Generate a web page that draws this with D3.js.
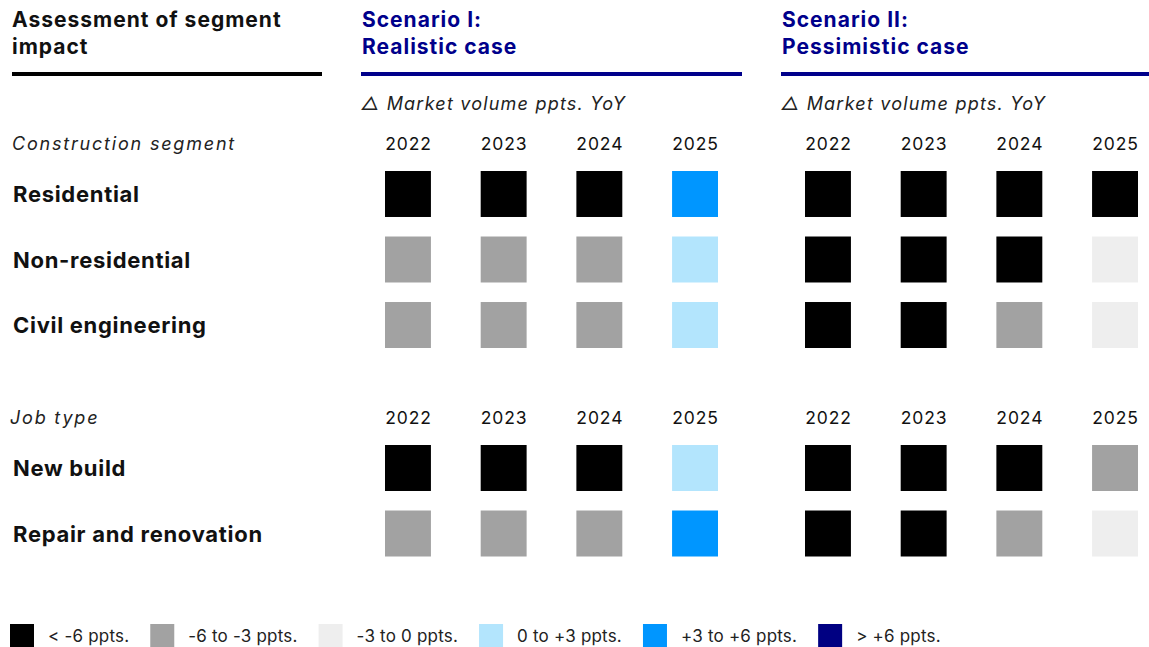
<!DOCTYPE html>
<html>
<head>
<meta charset="utf-8">
<script src="https://cdn.jsdelivr.net/npm/d3@7"></script>
<style>
  body { margin: 0; background: #fff; }
  svg { display: block; font-family: Inter, "Noto Sans", sans-serif; }
</style>
</head>
<body>
<svg id="chart"></svg>
<script>
const W = 1149, H = 647;

// classes of YoY change, index 0..5
const classLabels = ["< -6 ppts.", "-6 to -3 ppts.", "-3 to 0 ppts.", "0 to +3 ppts.", "+3 to +6 ppts.", "> +6 ppts."];
const classColors = ["#000000", "#a2a2a2", "#eeeeee", "#b3e5fd", "#0096ff", "#000082"];

const years = ["2022", "2023", "2024", "2025"];
const scenarios = ["Scenario I:|Realistic case", "Scenario II:|Pessimistic case"];

const segmentRows = ["Residential", "Non-residential", "Civil engineering"];
const jobRows = ["New build", "Repair and renovation"];

// class index per row per year
const realisticSegment = [[0, 0, 0, 4], [1, 1, 1, 3], [1, 1, 1, 3]];
const realisticJob = [[0, 0, 0, 3], [1, 1, 1, 4]];
const pessimisticSegment = [[0, 0, 0, 0], [0, 0, 0, 2], [0, 0, 1, 2]];
const pessimisticJob = [[0, 0, 0, 1], [0, 0, 1, 2]];

const groups = [
  { title: "Construction segment", rows: segmentRows, values: [realisticSegment, pessimisticSegment], top: 171, head: 150, tx: 12 },
  { title: "Job type", rows: jobRows, values: [realisticJob, pessimisticJob], top: 445, head: 424, tx: 10 }
];

const svg = d3.select("#chart").attr("width", W).attr("height", H);

const color = d3.scaleOrdinal().domain(d3.range(6)).range(classColors);

// column scale inside a scenario block, block offsets
const scenX = d3.scaleOrdinal().domain([0, 1]).range([385, 805]);
const colX = d3.scaleBand().domain(years).range([0, 333]).paddingInner(0.52).paddingOuter(0);
const sq = colX.bandwidth();

/* header: left column */
const hdr = svg.append("g").attr("font-weight", 700).attr("font-size", 21)
  .attr("letter-spacing", 1).attr("fill", "#111");
hdr.append("text").attr("x", 12).attr("y", 27).text("Assessment of segment");
hdr.append("text").attr("x", 12).attr("y", 54).text("impact");
svg.append("rect").attr("x", 12).attr("y", 72).attr("width", 310).attr("height", 4).attr("fill", "#000");

/* header: scenarios */
const lineSpans = [[361, 742], [781, 1149]];
scenarios.forEach((s, i) => {
  const parts = s.split("|");
  const g = svg.append("g").attr("font-weight", 700).attr("font-size", 21)
    .attr("letter-spacing", 1).attr("fill", "#00008b");
  g.append("text").attr("x", lineSpans[i][0] + 1).attr("y", 27).text(parts[0]);
  g.append("text").attr("x", lineSpans[i][0] + 1).attr("y", 54).text(parts[1]);
  svg.append("rect").attr("x", lineSpans[i][0]).attr("y", 72)
    .attr("width", lineSpans[i][1] - lineSpans[i][0]).attr("height", 4).attr("fill", "#00008b");
  svg.append("text").attr("x", lineSpans[i][0]).attr("y", 110)
    .attr("font-size", 18).attr("font-style", "italic").attr("letter-spacing", 1.2).attr("fill", "#222")
    .text("\u25B3 Market volume ppts. YoY");
});

/* groups */
groups.forEach(grp => {
  const rowY = d3.scaleBand().domain(grp.rows)
    .range([grp.top, grp.top + 65.5 * (grp.rows.length - 1) + 46]).paddingInner(0.298).paddingOuter(0);

  svg.append("text").attr("x", grp.tx).attr("y", grp.head)
    .attr("font-size", 18).attr("font-style", "italic").attr("letter-spacing", 1.8).attr("fill", "#222")
    .text(grp.title);

  [0, 1].forEach(si => {
    svg.append("g").selectAll("text").data(years).join("text")
      .attr("x", d => scenX(si) + colX(d) + sq / 2 + 0.5)
      .attr("y", grp.head)
      .attr("text-anchor", "middle").attr("font-size", 17.5).attr("letter-spacing", 0.9).attr("fill", "#111")
      .text(d => d);

    const cells = [];
    grp.rows.forEach((r, ri) => years.forEach((y, yi) => cells.push({ row: r, year: y, v: grp.values[si][ri][yi] })));
    svg.append("g").selectAll("rect").data(cells).join("rect")
      .attr("x", d => scenX(si) + colX(d.year))
      .attr("y", d => rowY(d.row))
      .attr("width", sq).attr("height", rowY.bandwidth())
      .attr("fill", d => color(d.v));
  });

  svg.append("g").selectAll("text").data(grp.rows).join("text")
    .attr("x", 13).attr("y", d => rowY(d) + rowY.bandwidth() / 2 + 8)
    .attr("font-size", 22).attr("font-weight", 700).attr("letter-spacing", 0.7).attr("fill", "#111")
    .text(d => d);
});

/* legend */
const leg = svg.append("g");
let lx = 10;
classLabels.forEach((lab, i) => {
  leg.append("rect").attr("x", lx).attr("y", 624).attr("width", 24).attr("height", 24).attr("fill", classColors[i]);
  const t = leg.append("text").attr("x", lx + 38).attr("y", 642)
    .attr("font-size", 17).attr("letter-spacing", 0.2).attr("fill", "#222").text(lab);
  lx += 38 + t.node().getComputedTextLength() + 21;
});
</script>
</body>
</html>
